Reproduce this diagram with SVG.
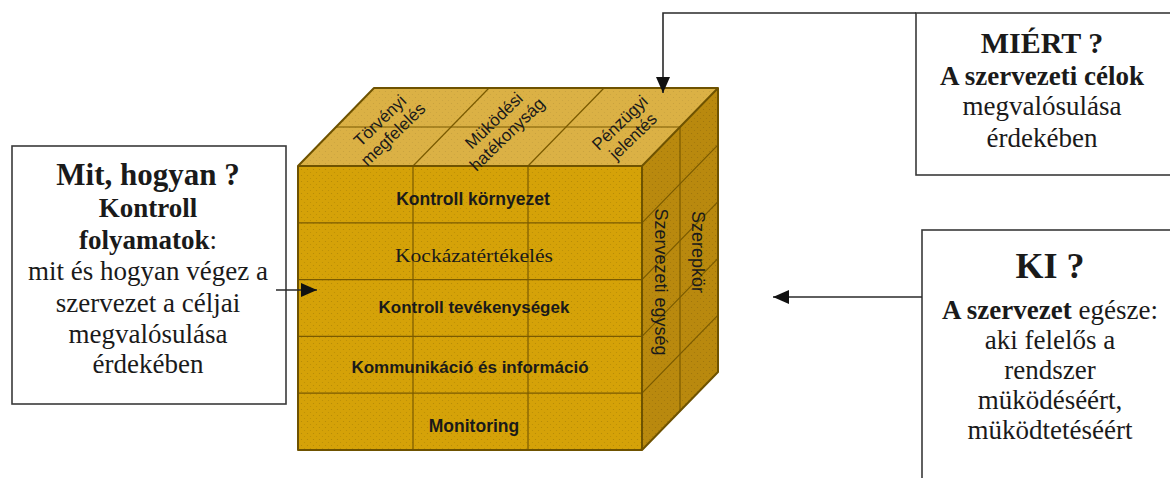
<svg xmlns="http://www.w3.org/2000/svg" width="1170" height="478" viewBox="0 0 1170 478">
<style>
.serif{font-family:"Liberation Serif","Times New Roman",serif;fill:#1a1a1a}
.sans{font-family:"Liberation Sans",Arial,sans-serif;fill:#1a1a1a}
.b{font-weight:bold}
.box{fill:#ffffff;stroke:#3a3a3a;stroke-width:1.6}
.edge{fill:none;stroke:#6e5200;stroke-width:2;stroke-linejoin:round}
.grid{fill:none;stroke:#7a5a00;stroke-width:1.2}
.conn{fill:none;stroke:#2a2a2a;stroke-width:1.6}
.t27{font-size:27px}
.mid{text-anchor:middle}
</style>
<defs>
<pattern id="dots" width="6" height="6" patternUnits="userSpaceOnUse">
<circle cx="1.5" cy="1.5" r="0.6" fill="#000" fill-opacity="0.16"/>
<circle cx="4.5" cy="4.5" r="0.6" fill="#000" fill-opacity="0.12"/>
</pattern>
<marker id="arrBig" viewBox="0 0 16 14" refX="16" refY="7" markerWidth="16" markerHeight="14" markerUnits="userSpaceOnUse" orient="auto">
<path d="M0,0 L16,7 L0,14 z" fill="#111"/>
</marker>
</defs>
<rect width="1170" height="478" fill="#ffffff"/>

<g id="cube">
<polygon points="298,166 642,166 642,450 298,450" fill="#D5A208"/>
<polygon points="298,166 642,166 642,450 298,450" fill="url(#dots)"/>
<polygon points="298,166 374,88 718,88 642,166" fill="#DBB145"/>
<polygon points="298,166 374,88 718,88 642,166" fill="url(#dots)" opacity="0.6"/>
<polygon points="642,166 718,88 718,372 642,450" fill="#B9890E"/>
<polygon points="642,166 718,88 718,372 642,450" fill="url(#dots)"/>
<g class="grid">
<line x1="298" y1="222.8" x2="642" y2="222.8"/>
<line x1="298" y1="279.6" x2="642" y2="279.6"/>
<line x1="298" y1="336.4" x2="642" y2="336.4"/>
<line x1="298" y1="393.2" x2="642" y2="393.2"/>
<line x1="413" y1="166" x2="413" y2="450"/>
<line x1="528" y1="166" x2="528" y2="450"/>
<line x1="413" y1="166" x2="489" y2="88"/>
<line x1="528" y1="166" x2="604" y2="88"/>
<line x1="336" y1="127" x2="680" y2="127"/>
<line x1="680" y1="127" x2="680" y2="411"/>
<line x1="642" y1="222.8" x2="718" y2="144.8"/>
<line x1="642" y1="279.6" x2="718" y2="201.6"/>
<line x1="642" y1="336.4" x2="718" y2="258.4"/>
<line x1="642" y1="393.2" x2="718" y2="315.2"/>
</g>
<polygon class="edge" points="298,166 374,88 718,88 718,372 642,450 298,450"/>
<polyline class="edge" points="298,166 642,166 718,88"/>
<line class="edge" x1="642" y1="166" x2="642" y2="450"/>
</g>

<g id="front-labels">
<text class="sans b mid" x="473" y="205" font-size="17.5">Kontroll környezet</text>
<text class="serif mid" x="474" y="262" font-size="19" textLength="158" lengthAdjust="spacingAndGlyphs">Kockázatértékelés</text>
<text class="sans b mid" x="474" y="313" font-size="17">Kontroll tevékenységek</text>
<text class="sans b mid" x="470" y="373" font-size="17">Kommunikáció és információ</text>
<text class="sans b mid" x="474" y="432" font-size="17.5">Monitoring</text>
</g>

<g id="top-labels" font-size="17">
<g transform="translate(386,127) rotate(-44)">
<text class="sans mid" x="0" y="-3">Törvényi</text>
<text class="sans mid" x="0" y="16">megfelelés</text>
</g>
<g transform="translate(500,127) rotate(-44)">
<text class="sans mid" x="0" y="-3">Müködési</text>
<text class="sans mid" x="0" y="16">hatékonyság</text>
</g>
<g transform="translate(626,129) rotate(-44)">
<text class="sans mid" x="0" y="-3">Pénzügyi</text>
<text class="sans mid" x="0" y="16">jelentés</text>
</g>
</g>

<g id="side-labels">
<g transform="translate(661,282) rotate(90)">
<text class="sans mid" x="0" y="6" font-size="18">Szervezeti egység</text>
</g>
<g transform="translate(698,252) rotate(90)">
<text class="sans mid" x="0" y="6" font-size="18">Szerepkör</text>
</g>
</g>

<g id="box-mit">
<rect class="box" x="12" y="146" width="274" height="258"/>
<text class="serif b mid" x="148" y="185" font-size="31">Mit, hogyan ?</text>
<text class="serif b mid t27" x="148" y="217">Kontroll</text>
<text class="serif mid t27" x="148" y="249"><tspan font-weight="bold">folyamatok</tspan>:</text>
<text class="serif mid t27" x="148" y="280">mit és hogyan végez a</text>
<text class="serif mid t27" x="148" y="312">szervezet a céljai</text>
<text class="serif mid t27" x="148" y="343">megvalósulása</text>
<text class="serif mid t27" x="148" y="373">érdekében</text>
</g>

<g id="box-miert">
<rect class="box" x="916" y="13" width="300" height="162"/>
<text class="serif b mid" x="1042" y="53" font-size="30">MIÉRT ?</text>
<text class="serif b mid t27" x="1042" y="85">A szervezeti célok</text>
<text class="serif mid t27" x="1042" y="115">megvalósulása</text>
<text class="serif mid t27" x="1042" y="147">érdekében</text>
</g>

<g id="box-ki">
<rect class="box" x="922" y="230" width="300" height="300"/>
<text class="serif b mid" x="1050" y="278" font-size="36">KI ?</text>
<text class="serif mid t27" x="1050" y="319"><tspan font-weight="bold">A szervezet</tspan> egésze:</text>
<text class="serif mid t27" x="1050" y="349">aki felelős a</text>
<text class="serif mid t27" x="1050" y="379">rendszer</text>
<text class="serif mid t27" x="1050" y="409">müködéséért,</text>
<text class="serif mid t27" x="1050" y="439">müködtetéséért</text>
</g>

<g id="connectors">
<polyline class="conn" points="916,13 663,13 663,93" marker-end="url(#arrBig)"/>
<line class="conn" x1="922" y1="297" x2="773" y2="297" marker-end="url(#arrBig)"/>
<line class="conn" x1="276" y1="290" x2="317" y2="290" marker-end="url(#arrBig)"/>
</g>
</svg>
